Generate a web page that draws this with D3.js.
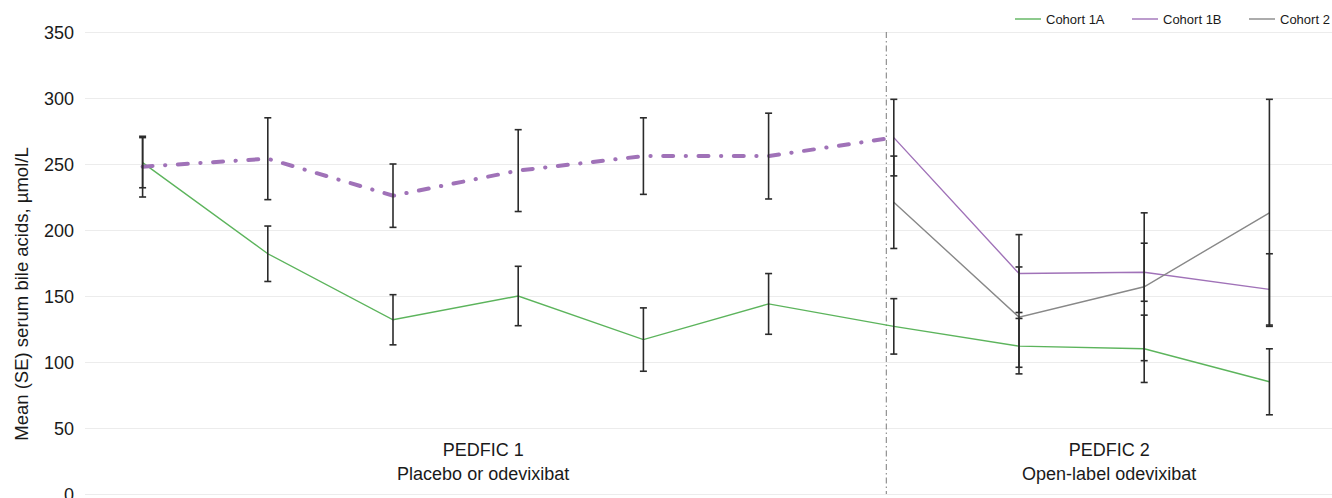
<!DOCTYPE html>
<html>
<head>
<meta charset="utf-8">
<script src="https://cdn.jsdelivr.net/npm/d3@7/dist/d3.min.js"></script>
<style>
  html, body { margin: 0; padding: 0; background: #fff; }
  svg { display: block; font-family: "Liberation Sans", Arial, Helvetica, sans-serif; }
</style>
</head>
<body>
<svg id="chart" width="1332" height="498"></svg>
<script>
// Study visits (10 time points: 7 in PEDFIC 1, last one shared with PEDFIC 2 start)
const visits = ["V1", "V2", "V3", "V4", "V5", "V6", "V7", "V8", "V9", "V10"];

// Mean serum bile acids (µmol/L) and standard errors per cohort
const cohort1AMean = [251, 182, 132, 150, 117, 144, 127, 112, 110, 85];
const cohort1ASE   = [19, 21, 19, 22.5, 24, 23, 21, 21, 25.5, 25];

const cohort1BMean = [248, 254, 226, 245, 256, 256, 270, 167, 168, 155];
const cohort1BSE   = [23, 31, 24, 31, 29, 32.5, 29, 29.5, 22, 27];

const cohort2Mean  = [null, null, null, null, null, null, 221, 134, 157, 213];
const cohort2SE    = [null, null, null, null, null, null, 35, 38, 56, 86];

// Last visit index belonging to PEDFIC 1 (placebo-controlled phase)
const pedfic1LastIndex = 6;
// Divider between the two studies, in visit-index units
const dividerAt = 5.94;

const yTicks = [0, 50, 100, 150, 200, 250, 300, 350];
const seriesNames = ["Cohort 1A", "Cohort 1B", "Cohort 2"];
const seriesColors = ["#5cb45c", "#a072b8", "#888888"];

const svg = d3.select("#chart");
const W = 1332, H = 498;
const margin = { left: 80, right: 0, top: 32, bottom: 4 };

const x = d3.scaleBand().domain(visits).range([margin.left, W - margin.right]);
const xIdx = d3.scaleLinear()
  .domain([0, visits.length - 1])
  .range([x(visits[0]) + x.bandwidth() / 2, x(visits[visits.length - 1]) + x.bandwidth() / 2]);
const y = d3.scaleLinear().domain([0, 350]).range([H - margin.bottom, margin.top]);
const cx = i => x(visits[i]) + x.bandwidth() / 2;

// Gridlines + y tick labels
const yAxis = d3.axisLeft(y).tickValues(yTicks).tickSize(-(W - 85)).tickPadding(11);
const gy = svg.append("g").attr("transform", "translate(85,0)").call(yAxis);
gy.select(".domain").remove();
gy.selectAll(".tick line").attr("stroke", "#ececec").attr("stroke-width", 1);
gy.selectAll(".tick text")
  .attr("fill", "#1a1a1a")
  .style("font-size", "18px")
  .attr("dy", "0.34em");

// Y axis title
svg.append("text")
  .attr("transform", "translate(28,294) rotate(-90)")
  .attr("text-anchor", "middle")
  .attr("fill", "#1a1a1a")
  .style("font-size", "18.5px")
  .text("Mean (SE) serum bile acids, µmol/L");

// Divider between PEDFIC 1 and PEDFIC 2
const xDiv = xIdx(dividerAt);
svg.append("line")
  .attr("x1", xDiv).attr("x2", xDiv)
  .attr("y1", y(350)).attr("y2", y(0))
  .attr("stroke", "#7a7a7a")
  .attr("stroke-width", 1)
  .attr("stroke-dasharray", "6 3 1.5 3");

// Study section labels
const sections = [
  { title: "PEDFIC 1", sub: "Placebo or odevixibat", x0: margin.left, x1: xDiv },
  { title: "PEDFIC 2", sub: "Open-label odevixibat", x0: xDiv, x1: W - margin.right }
];
sections.forEach(s => {
  const g = svg.append("g")
    .attr("text-anchor", "middle")
    .attr("fill", "#1a1a1a")
    .style("font-size", "18px");
  g.append("text").attr("x", (s.x0 + s.x1) / 2).attr("y", 456).text(s.title);
  g.append("text").attr("x", (s.x0 + s.x1) / 2).attr("y", 480).text(s.sub);
});

const line = d3.line()
  .defined(d => d.v != null)
  .x(d => cx(d.i))
  .y(d => y(d.v));

const toPts = arr => arr.map((v, i) => ({ i, v }));

// Cohort 1A
svg.append("path")
  .datum(toPts(cohort1AMean))
  .attr("d", line)
  .attr("fill", "none")
  .attr("stroke", seriesColors[0])
  .attr("stroke-width", 1.4);

// Cohort 1B: dash-dot during PEDFIC 1, solid in PEDFIC 2
const c1b = toPts(cohort1BMean);
svg.append("path")
  .datum(c1b.slice(0, pedfic1LastIndex + 1))
  .attr("d", line)
  .attr("fill", "none")
  .attr("stroke", seriesColors[1])
  .attr("stroke-width", 4)
  .attr("stroke-linecap", "round")
  .attr("stroke-dasharray", "10 12.5 0.3 12.5");
svg.append("path")
  .datum(c1b.slice(pedfic1LastIndex))
  .attr("d", line)
  .attr("fill", "none")
  .attr("stroke", seriesColors[1])
  .attr("stroke-width", 1.4);

// Cohort 2
svg.append("path")
  .datum(toPts(cohort2Mean))
  .attr("d", line)
  .attr("fill", "none")
  .attr("stroke", seriesColors[2])
  .attr("stroke-width", 1.4);

// Error bars (mean ± SE)
const errSets = [
  [cohort1AMean, cohort1ASE],
  [cohort1BMean, cohort1BSE],
  [cohort2Mean, cohort2SE]
];
const capW = 3.5;
const eg = svg.append("g").attr("stroke", "#2b2b2b").attr("stroke-width", 1.6);
errSets.forEach(([m, se]) => {
  m.forEach((v, i) => {
    if (v == null || se[i] == null) return;
    const xc = cx(i), yt = y(v + se[i]), yb = y(v - se[i]);
    eg.append("line").attr("x1", xc).attr("x2", xc).attr("y1", yt).attr("y2", yb);
    eg.append("line").attr("x1", xc - capW).attr("x2", xc + capW).attr("y1", yt).attr("y2", yt);
    eg.append("line").attr("x1", xc - capW).attr("x2", xc + capW).attr("y1", yb).attr("y2", yb);
  });
});

// Legend (top right)
const legendX = [1015, 1132, 1249];
const lg = svg.append("g").style("font-size", "13px");
seriesNames.forEach((name, k) => {
  lg.append("line")
    .attr("x1", legendX[k]).attr("x2", legendX[k] + 26)
    .attr("y1", 19).attr("y2", 19)
    .attr("stroke", seriesColors[k]).attr("stroke-width", 1.4);
  lg.append("text")
    .attr("x", legendX[k] + 31).attr("y", 23.5)
    .attr("fill", "#1a1a1a")
    .text(name);
});
</script>
</body>
</html>
